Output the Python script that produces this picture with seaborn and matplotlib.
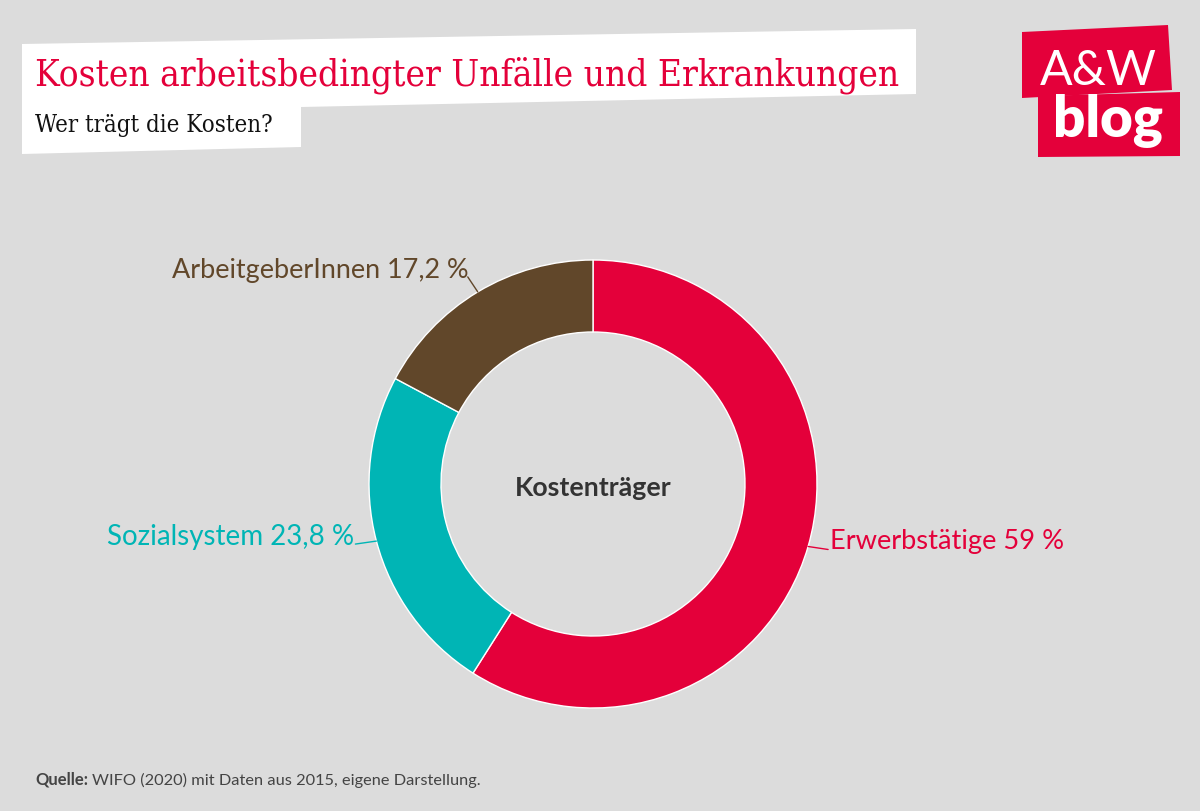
import numpy as np
import matplotlib.pyplot as plt
import seaborn as sns

W, H = 1200, 812

categories = ['Erwerbstätige', 'Sozialsystem', 'ArbeitgeberInnen']
shares = [59.0, 23.8, 17.2]
share_labels = ['59 %', '23,8 %', '17,2 %']
colors = ['#e4003a', '#00b5b5', '#61472a']

title = 'Kosten arbeitsbedingter Unfälle und Erkrankungen'
subtitle = 'Wer trägt die Kosten?'
center_label = 'Kostenträger'
source_head = 'Quelle:'
source_text = 'WIFO (2020) mit Daten aus 2015, eigene Darstellung.'

BG = '#dcdcdc'
RED = '#e4003a'

sns.set_theme(style='white')
plt.rcParams['font.family'] = ['Lato', 'DejaVu Sans']

fig = plt.figure(figsize=(12, 8.12), dpi=100, facecolor=BG)
ax = fig.add_axes([0, 0, 1, 1])
ax.set_facecolor(BG)


def py(y):
    # pixel row (from top) -> data y
    return H - y


def fit_width(t, target):
    r = fig.canvas.get_renderer()
    w = t.get_window_extent(r).width
    t.set_fontsize(t.get_fontsize() * target / w)


# donut
cx, cy, R, ring = 593, py(485), 224, 72
wedges, _ = ax.pie(shares, colors=colors, startangle=90, counterclock=False,
                   radius=R, center=(cx, cy), frame=True,
                   wedgeprops=dict(width=ring, edgecolor='white', linewidth=1))
ax.set_xlim(0, W)
ax.set_ylim(0, H)
ax.axis('off')

# title box and logo (decoration)
ax.fill([22, 916, 916, 301, 301, 22], [py(45), py(30), py(95), py(108), py(148), py(155)],
        color='white', lw=0, zorder=1)
ax.fill([1022, 1168, 1172, 1022], [py(33), py(26), py(91), py(99)], color=RED, lw=0, zorder=1)
ax.fill([1038, 1180, 1180, 1038], [py(97), py(93), py(157), py(158)], color=RED, lw=0, zorder=1)

t = ax.text(1098, py(85), 'A&W', color='white', ha='center', va='baseline',
            fontsize=40, fontweight='normal', zorder=2)
fit_width(t, 117)
t = ax.text(1108, py(137), 'blog', color='white', ha='center', va='baseline',
            fontsize=34, fontweight='heavy', zorder=2)
fit_width(t, 110)

t = ax.text(35, py(85), title, color=RED, ha='left', va='baseline',
            fontsize=26, family='DejaVu Serif', fontstretch='condensed', zorder=2)
fit_width(t, 865)
t = ax.text(35, py(132), subtitle, color='#111111', ha='left', va='baseline',
            fontsize=18, family='DejaVu Serif', fontstretch='condensed', zorder=2)
fit_width(t, 237)

t = ax.text(cx, py(488), center_label, color='#333333', ha='center', va='center',
            fontsize=18, fontweight='bold')
fit_width(t, 157)

# labels with leader lines
line_offsets = [(20, -3), (-21, -3), (-10, 15)]
text_offsets = [(2, 9), (-1, 8), (1, 7)]
label_widths = [235, 247, 298]
for w, cat, lab, col, lo, to, lw_ in zip(wedges, categories, share_labels, colors,
                                         line_offsets, text_offsets, label_widths):
    ang = np.deg2rad((w.theta1 + w.theta2) / 2)
    x0, y0 = cx + R * np.cos(ang), cy + R * np.sin(ang)
    x1, y1 = x0 + lo[0], y0 + lo[1]
    ax.plot([x0, x1], [y0, y1], color=col, lw=1)
    ha = 'left' if lo[0] > 0 else 'right'
    t = ax.text(x1 + to[0], y1 + to[1], f'{cat} {lab}', color=col, ha=ha, va='center',
                fontsize=20)
    fit_width(t, lw_)

# source
t1 = ax.text(35, py(785), source_head, color='#444444', ha='left', va='baseline',
             fontsize=12, fontweight='bold')
r = fig.canvas.get_renderer()
x_end = t1.get_window_extent(r).x1  # pixels == data units here
t2 = ax.text(x_end + 4, py(785), source_text, color='#444444', ha='left', va='baseline',
             fontsize=12)
fit_width(t2, 478 - x_end - 4)

fig.savefig('out.png', dpi=100, facecolor=BG)
